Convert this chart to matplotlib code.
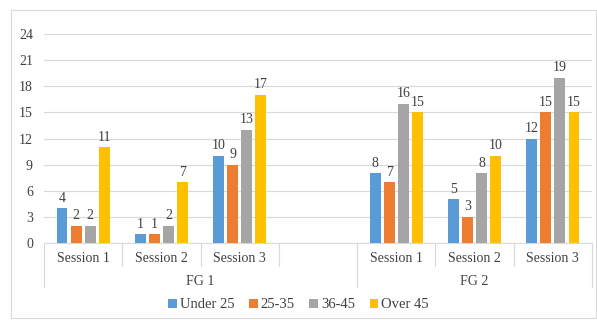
import matplotlib.pyplot as plt
from matplotlib.lines import Line2D
from matplotlib.patches import Rectangle
import numpy as np

plt.rcParams['font.family'] = ['Liberation Serif', 'DejaVu Serif']

# category slots: FG 1 sessions, an empty slot, FG 2 sessions
sessions = ['Session 1', 'Session 2', 'Session 3', '', 'Session 1', 'Session 2', 'Session 3']
groups = ['FG 1', 'FG 2']
series = ['Under 25', '25-35', '36-45', 'Over 45']
under25 = [4, 1, 10, None, 8, 5, 12]
age25_35 = [2, 1, 9, None, 7, 3, 15]
age36_45 = [2, 2, 13, None, 16, 8, 19]
over45 = [11, 7, 17, None, 15, 10, 15]
colors = ['#5B9BD5', '#ED7D31', '#A5A5A5', '#FFC000']

fig = plt.figure(figsize=(5.97, 3.2), dpi=100)
fig.patches.append(Rectangle((11 / 597, 0.005), 585 / 597, 1 - 10 / 320 - 0.005,
                             transform=fig.transFigure, fill=False,
                             edgecolor='#D9D9D9', linewidth=0.8))
ax = fig.add_axes([44 / 597, 1 - 243 / 320, 548 / 597, 209 / 320])

x = np.arange(len(sessions))
width = 0.14
step = 0.18
for i, (name, vals, c) in enumerate(zip(series, [under25, age25_35, age36_45, over45], colors)):
    xs = [xi for xi, v in zip(x, vals) if v is not None]
    vs = [v for v in vals if v is not None]
    pos = np.array(xs) + (i - 1.5) * step
    ax.bar(pos, vs, width, color=c, label=name, zorder=3)
    for p, v in zip(pos, vs):
        ax.text(p, v + 0.4, str(v), ha='center', va='bottom', fontsize=10, color='#404040')

ax.set_xlim(-0.5, len(sessions) - 0.5)
ax.set_ylim(0, 24)
ax.set_yticks(range(0, 25, 3))
ax.tick_params(axis='y', length=0, labelsize=10, labelcolor='#404040', pad=8)
ax.set_xticks([])
ax.grid(axis='y', color='#D9D9D9', linewidth=0.8, zorder=0)
for s in ['top', 'right', 'left']:
    ax.spines[s].set_visible(False)
ax.spines['bottom'].set_color('#D9D9D9')

# two-level category axis
trans = ax.get_xaxis_transform()
for xi, label in zip(x, sessions):
    ax.text(xi, -0.075, label, transform=trans, ha='center', va='center',
            fontsize=10, color='#404040')
ax.text(1.5, -0.185, groups[0], transform=trans, ha='center', va='center',
        fontsize=10, color='#404040')
ax.text(5, -0.185, groups[1], transform=trans, ha='center', va='center',
        fontsize=10, color='#404040')
for b in np.arange(-0.5, len(sessions), 1.0):
    long = b in (-0.5, 3.5, 6.5)
    ax.add_line(Line2D([b, b], [0, -0.21 if long else -0.11], transform=trans,
                       color='#D9D9D9', linewidth=0.8, clip_on=False))

fig.legend(loc='center', bbox_to_anchor=(0.5, 1 - 305 / 320), ncol=4, frameon=False,
           fontsize=10.5, handlelength=0.6, handleheight=0.6, handletextpad=0.2,
           columnspacing=1.0, labelcolor='#404040')

fig.savefig('out.png', dpi=100)
